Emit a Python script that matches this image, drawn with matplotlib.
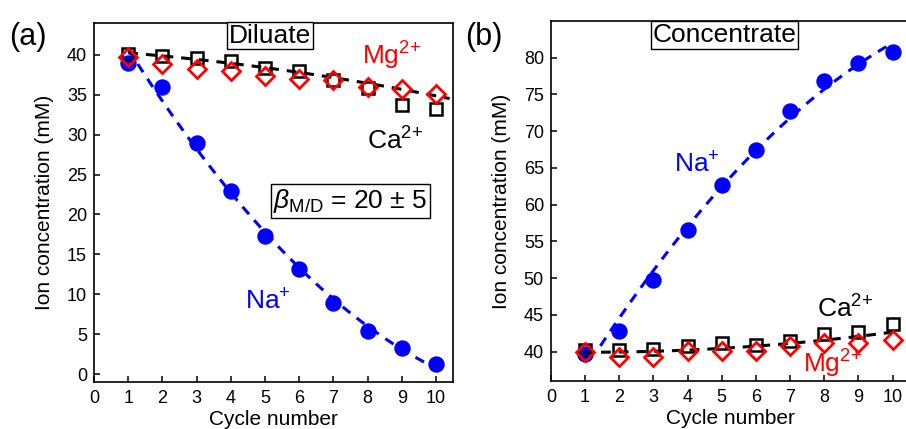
import numpy as np
import matplotlib
matplotlib.use("Agg")
import matplotlib.pyplot as plt

plt.rcParams['font.family'] = ['Liberation Sans', 'DejaVu Sans']
plt.rcParams['mathtext.fontset'] = 'custom'
plt.rcParams['mathtext.rm'] = 'Liberation Sans'
plt.rcParams['mathtext.it'] = 'Liberation Sans:italic'

cycles = np.arange(1, 11)

# (a) diluate
dil_na = [39.0, 36.0, 29.0, 23.0, 17.3, 13.1, 8.9, 5.4, 3.3, 1.25]
dil_ca = [40.1, 39.8, 39.6, 39.2, 38.4, 38.0, 36.9, 35.9, 33.75, 33.2]
dil_mg = [39.7, 38.9, 38.25, 37.95, 37.4, 37.0, 36.8, 36.0, 35.75, 35.1]

# (b) concentrate
con_na = [39.7, 42.8, 49.7, 56.5, 62.65, 67.5, 72.8, 76.8, 79.3, 80.8]
con_ca = [40.2, 40.2, 40.4, 40.7, 41.2, 40.9, 41.5, 42.4, 42.7, 43.7]
con_mg = [40.0, 39.2, 39.3, 40.1, 40.1, 40.1, 40.7, 41.1, 41.2, 41.6]

BLUE = '#0000ff'
RED = '#ff0000'


def fit_line(ax, x, y, x0, x1, color, deg=2):
    p = np.polyfit(x, y, deg)
    xx = np.linspace(x0, x1, 100)
    ax.plot(xx, np.polyval(p, xx), color=color, lw=2.2, ls=(0, (3.2, 2.6)), zorder=4)


def style(ax, ylim, yticks):
    ax.set_xlim(0, 10.5)
    ax.set_ylim(*ylim)
    ax.set_xticks(range(0, 11))
    ax.set_yticks(yticks)
    ax.tick_params(direction='in', length=4, width=1.1, labelsize=13)
    ax.tick_params(axis='x', pad=6)
    ax.tick_params(axis='y', pad=5)
    for s in ax.spines.values():
        s.set_linewidth(1.2)
    ax.set_xlabel('Cycle number', fontsize=15, labelpad=2)
    ax.set_ylabel('Ion concentration (mM)', fontsize=15, labelpad=9)


def markers(ax, na, ca, mg):
    ax.plot(cycles, na, 'o', color=BLUE, ms=10.8, zorder=3)
    ax.plot(cycles, ca, 's', mfc='none', mec='black', mew=1.8, ms=8, zorder=5)
    ax.plot(cycles, mg, 'D', mfc='none', mec=RED, mew=2.0, ms=9.5, zorder=6)


fig = plt.figure(figsize=(9.06, 4.29), dpi=100)
ax1 = fig.add_axes([0.1038, 0.1096, 0.3962, 0.8368])
ax2 = fig.add_axes([0.608, 0.112, 0.396, 0.839])

# panel a
markers(ax1, dil_na, dil_ca, dil_mg)
fit_line(ax1, cycles, dil_na, 1.0, 10.0, BLUE)
fit_line(ax1, cycles, np.maximum(dil_ca, dil_mg), 1.0, 10.4, 'black')
style(ax1, (-1, 44), range(0, 41, 5))
box = dict(boxstyle='square,pad=0.06', fc='white', ec='black', lw=1.0)
ax1.text(5.15, 42.4, 'Diluate', fontsize=19, ha='center', va='center', bbox=box)
ax1.text(8.7, 39.9, 'Mg$^{2{+}}$', fontsize=19, color=RED, ha='center', va='center')
ax1.text(8.8, 29.2, 'Ca$^{2{+}}$', fontsize=19, color='black', ha='center', va='center')
ax1.text(5.1, 9.0, 'Na$^{+}$', fontsize=19, color=BLUE, ha='center', va='center')
ax1.text(7.5, 21.7, r'$\beta_{\mathrm{M/D}}$ = 20 ± 5', fontsize=19, ha='center', va='center',
         bbox=dict(boxstyle='square,pad=0.1', fc='white', ec='black', lw=1.0))
fig.text(0.01, 0.895, '(a)', fontsize=22)

# panel b
markers(ax2, con_na, con_ca, con_mg)
fit_line(ax2, cycles, con_na, 1.45, 10.0, BLUE)
fit_line(ax2, np.r_[cycles, cycles], np.r_[con_ca, con_mg], 0.95, 10.0, 'black')
style(ax2, (36, 85), range(40, 81, 5))
ax2.text(5.09, 83.1, 'Concentrate', fontsize=19, ha='center', va='center', bbox=box)
ax2.text(4.27, 65.4, 'Na$^{+}$', fontsize=19, color=BLUE, ha='center', va='center')
ax2.text(8.6, 45.8, 'Ca$^{2{+}}$', fontsize=19, color='black', ha='center', va='center')
ax2.text(8.25, 38.3, 'Mg$^{2{+}}$', fontsize=19, color=RED, ha='center', va='center')
fig.text(0.513, 0.895, '(b)', fontsize=22)

fig.savefig('out.png', dpi=100)
